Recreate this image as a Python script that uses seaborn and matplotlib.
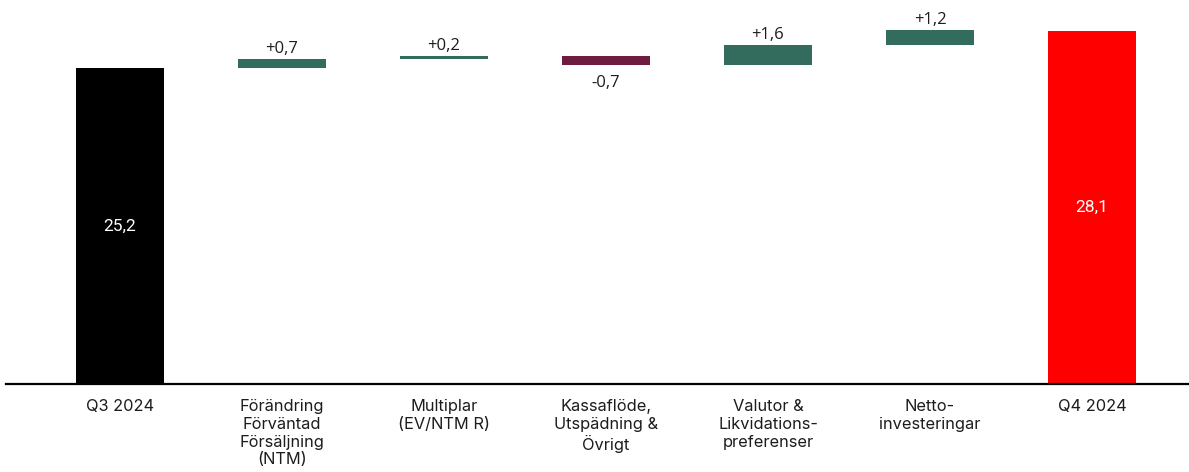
import matplotlib
matplotlib.use("Agg")
import matplotlib.pyplot as plt
import seaborn as sns
import numpy as np

# Bridge from Q3 2024 to Q4 2024
categories = [
    "Q3 2024",
    "Förändring\nFörväntad\nFörsäljning\n(NTM)",
    "Multiplar\n(EV/NTM R)",
    "Kassaflöde,\nUtspädning &\nÖvrigt",
    "Valutor &\nLikvidations-\npreferenser",
    "Netto-\ninvesteringar",
    "Q4 2024",
]
start_value = 25.2
changes = [0.7, 0.2, -0.7, 1.6, 1.2]
end_value = 28.1

start_label = "25,2"
change_labels = ["+0,7", "+0,2", "-0,7", "+1,6", "+1,2"]
end_label = "28,1"

GREEN = "#336b5c"
MAROON = "#6e1d41"
BLACK = "#000000"
RED = "#ff0000"
TEXT = "#1c1c1c"

# Floating bars: bottom and height for each step
running = np.concatenate([[start_value], start_value + np.cumsum(changes)])
bottoms = [0.0]
heights = [start_value]
for i, c in enumerate(changes):
    lo = running[i] if c >= 0 else running[i + 1]
    bottoms.append(lo)
    heights.append(abs(c))
bottoms.append(0.0)
heights.append(end_value)
colors = [BLACK] + [GREEN if c >= 0 else MAROON for c in changes] + [RED]

sns.set_theme(style="white")
fig = plt.figure(figsize=(11.89, 4.72), dpi=100)
ax = fig.add_axes([0.005, 88 / 472, 0.995, 384 / 472])

sns.barplot(
    x=list(range(len(categories))), y=heights, bottom=bottoms,
    width=0.543, errorbar=None, linewidth=0, ax=ax, color=GREEN,
)
for patch, col in zip(ax.patches, colors):
    patch.set_facecolor(col)
    patch.set_edgecolor("none")

ax.set_xlim(-0.704, 6.599)
ax.set_ylim(0, 30.6)

for side in ["top", "right", "left"]:
    ax.spines[side].set_visible(False)
ax.spines["bottom"].set_color("#000000")
ax.spines["bottom"].set_linewidth(1.6)
ax.set_yticks([])
ax.set_xticks(range(len(categories)))
ax.set_xticklabels(categories, fontsize=11.8, color=TEXT, family="Inter",
                   linespacing=1.22, va="top")
ax.tick_params(axis="x", length=0, pad=11)
ax.set_xlabel("")
ax.set_ylabel("")

# Totals inside the end bars
ax.text(0, start_value / 2, start_label, ha="center", va="center",
        color="white", fontsize=12.5, family="Roboto")
ax.text(6, end_value / 2, end_label, ha="center", va="center",
        color="white", fontsize=12.5, family="Roboto")

# Change labels above/below the floating bars
for i, (c, lab) in enumerate(zip(changes, change_labels), start=1):
    if c >= 0:
        ax.annotate(lab, (i, bottoms[i] + heights[i]), xytext=(0, 1.5),
                    textcoords="offset points", ha="center", va="bottom",
                    fontsize=12, color=TEXT, family="Open Sans")
    else:
        ax.annotate(lab, (i, bottoms[i]), xytext=(0, -7),
                    textcoords="offset points", ha="center", va="top",
                    fontsize=12, color=TEXT, family="Open Sans")

fig.savefig("out.png", dpi=100, facecolor="white")
